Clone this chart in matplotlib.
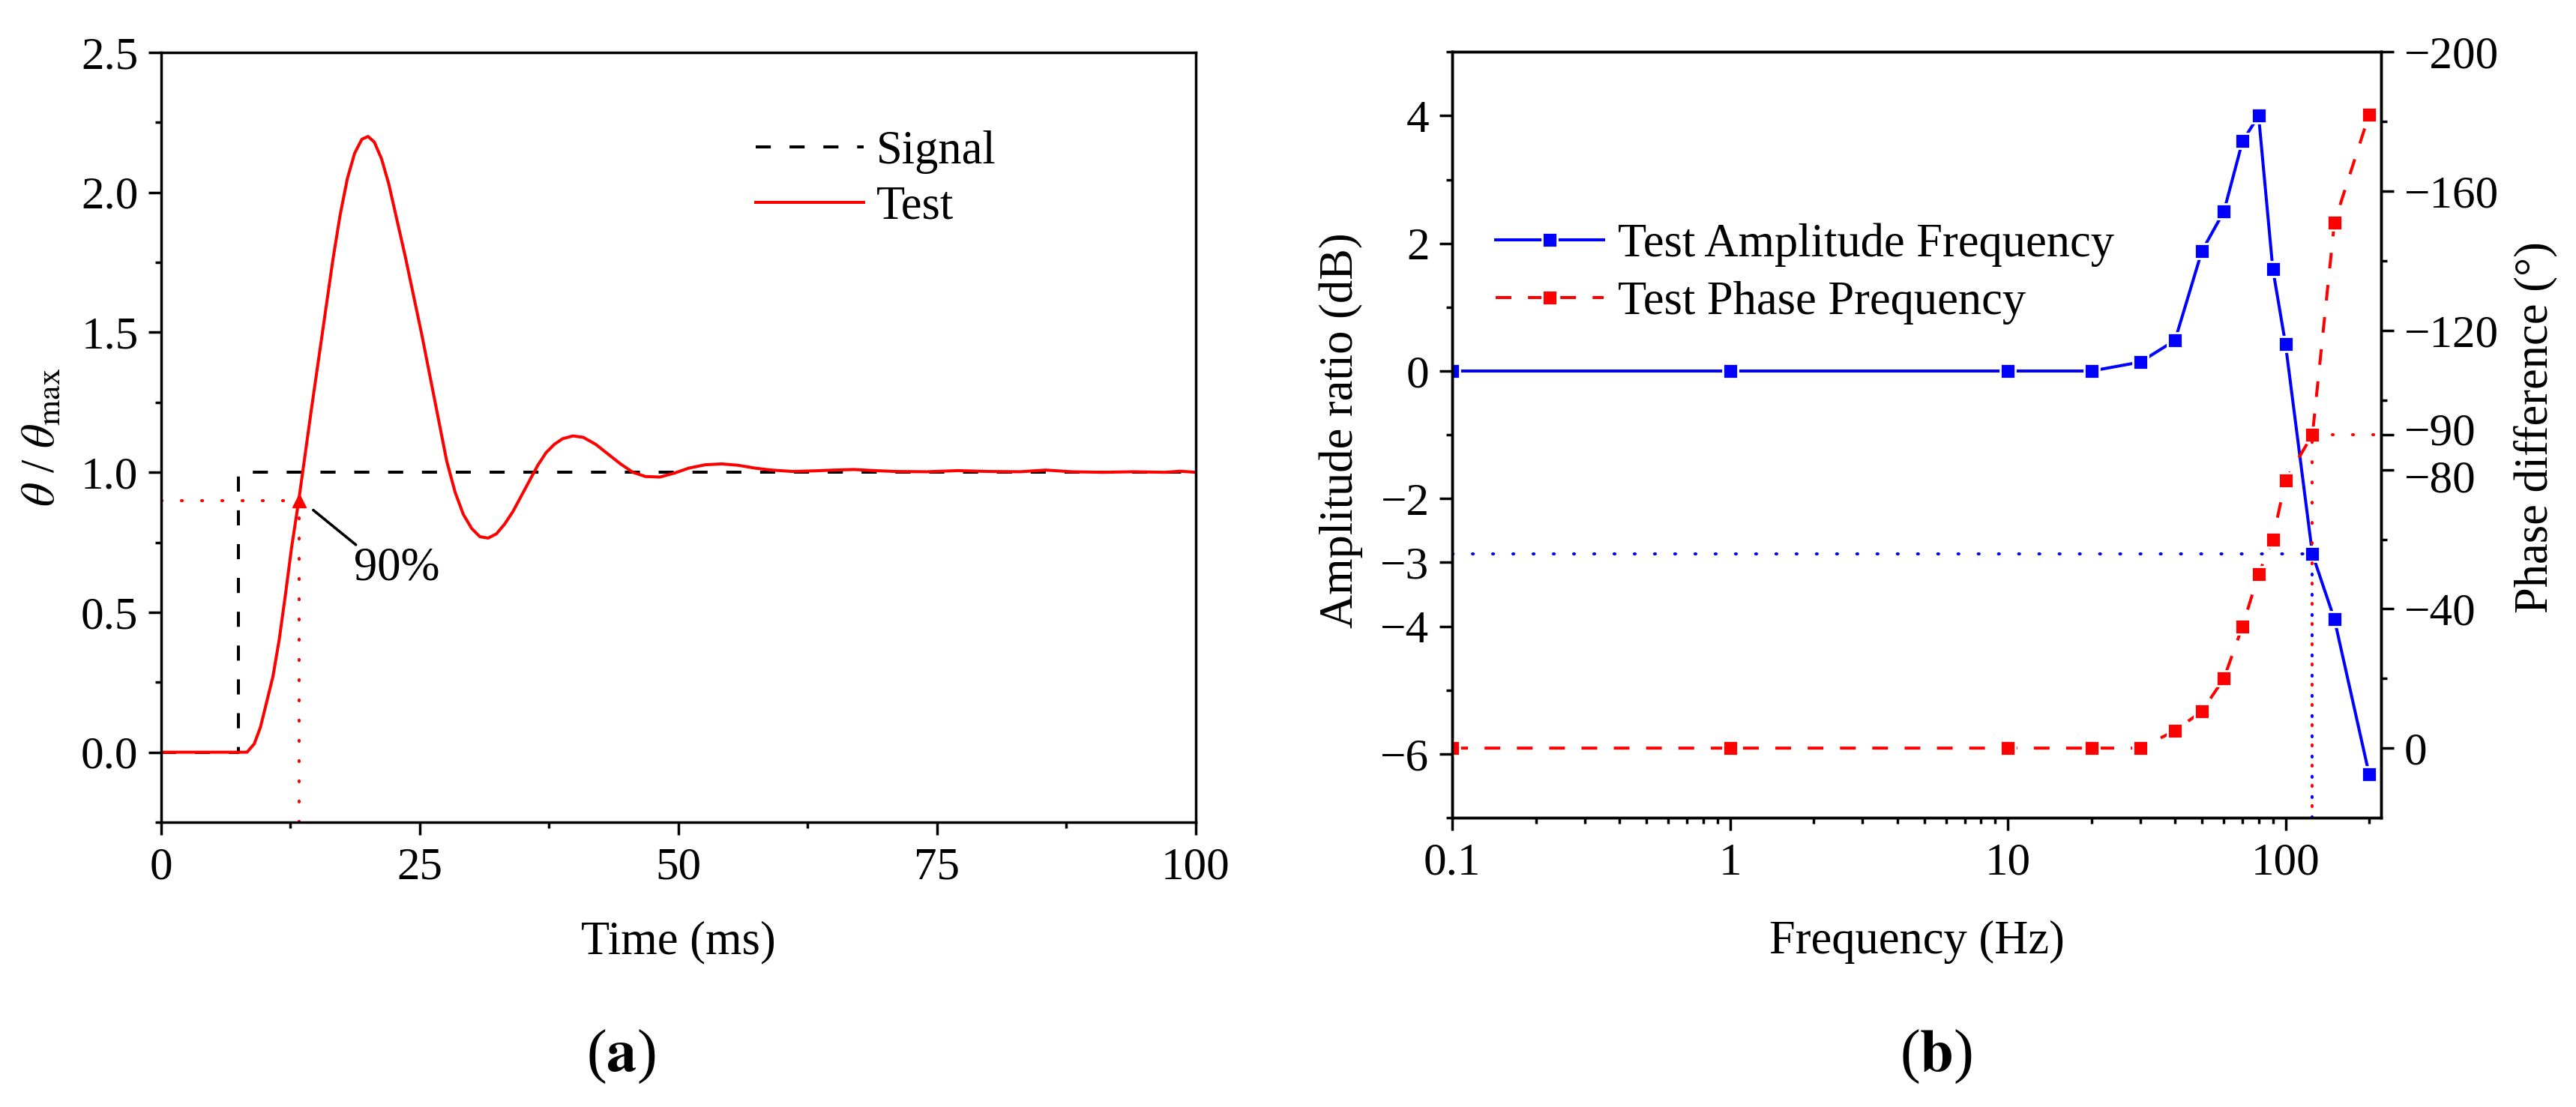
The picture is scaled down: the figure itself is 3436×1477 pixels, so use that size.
import matplotlib
matplotlib.use('Agg')
import matplotlib.pyplot as plt
from matplotlib.ticker import MultipleLocator, FixedLocator
from matplotlib.transforms import ScaledTranslation

plt.rcParams['font.family'] = ['Liberation Serif', 'DejaVu Serif']
plt.rcParams['mathtext.fontset'] = 'stix'

# ---------------- panel (a) data ----------------
test_t = [0, 8.3, 9.0, 9.6, 10.2, 10.8, 11.4, 12.0, 12.6, 13.3, 13.9, 14.5, 15.2, 15.9,
          16.6, 17.3, 18.0, 18.7, 19.4, 20.0, 20.6, 21.3, 22.0, 22.8, 23.6, 24.4, 25.2,
          26.0, 26.8, 27.6, 28.4, 29.2, 30.0, 30.8, 31.6, 32.4, 33.2, 34.0, 34.8, 35.6,
          36.4, 37.2, 38.0, 38.8, 39.8, 40.8, 42.0, 43.2, 44.4, 45.6, 46.8, 48.2, 49.6,
          51.0, 52.6, 54.2, 55.8, 57.4, 59.0, 61.0, 63.0, 65.0, 67.0, 69.0, 71.0, 74.0,
          77.0, 80.0, 83.0, 85.5, 88.0, 91.0, 94.0, 97.0, 98.5, 100.0]
test_v = [0, 0, 0.03, 0.09, 0.18, 0.27, 0.40, 0.56, 0.73, 0.90, 1.06, 1.22, 1.40, 1.58,
          1.76, 1.92, 2.05, 2.14, 2.19, 2.20, 2.18, 2.12, 2.03, 1.90, 1.77, 1.63, 1.49,
          1.34, 1.19, 1.04, 0.93, 0.85, 0.80, 0.77, 0.765, 0.78, 0.815, 0.86, 0.915, 0.97,
          1.025, 1.07, 1.10, 1.12, 1.13, 1.125, 1.10, 1.065, 1.03, 1.00, 0.985, 0.983, 0.997,
          1.015, 1.027, 1.03, 1.025, 1.015, 1.008, 1.003, 1.005, 1.008, 1.010, 1.006, 1.003, 1.002,
          1.006, 1.003, 1.002, 1.008, 1.002, 1.000, 1.002, 1.000, 1.004, 1.000]
signal_t = [0, 7.5, 100]
signal_v = [0, 1, 1]
rise_t = 13.3
rise_v = 0.9

a_xticks = [0, 25, 50, 75, 100]
a_xticklabels = ['0', '25', '50', '75', '100']
a_yticks = [0.0, 0.5, 1.0, 1.5, 2.0, 2.5]
a_yticklabels = ['0.0', '0.5', '1.0', '1.5', '2.0', '2.5']

# ---------------- panel (b) data ----------------
freq = [0.1, 1, 10, 20, 30, 40, 50, 60, 70, 80, 90, 100, 125, 150, 200]
amp = [0, 0, 0, 0, 0.14, 0.48, 1.88, 2.5, 3.6, 4.0, 1.6, 0.42, -2.87, -3.89, -6.32]
phase = [0, 0, 0, 0, 0, -5, -10.6, -20, -35, -50, -60, -77, -90, -151, -182]
cut_index = 12

b_xticks = [0.1, 1, 10, 100]
b_xticklabels = ['0.1', '1', '10', '100']
amp_ticks = [4, 2, 0, -2, -3, -4, -6]
amp_minor = [5, 3, 1, -1, -5, -7]
phase_ticks = [-200, -160, -120, -90, -80, -40, 0]
phase_minor = [-180, -140, -100, -60, -20]

# ---------------- figure ----------------
fig = plt.figure(figsize=(34.37, 14.77), dpi=100)
axA = fig.add_axes([0.06255, 0.2573, 0.4015, 0.6953])
axB = fig.add_axes([0.5636, 0.2613, 0.3605, 0.6918])
axP = axB.twinx()

LW = 2.9
SPW = 2.5
TICK_FS = 44
LAB_FS = 45
dotted = (0, (0.3, 6.4))

for ax in (axA, axB, axP):
    for s in ax.spines.values():
        s.set_linewidth(SPW)

# ---- panel a ----
axA.plot(signal_t, signal_v, color='black', lw=LW, ls=(0, (5.0, 6.2)),
         drawstyle='steps-post', label='Signal')
axA.plot(test_t, test_v, color='red', lw=LW, label='Test')
axA.set_xlim(0, 100)
axA.set_ylim(-0.25, 2.5)
axA.hlines(rise_v, axA.get_xlim()[0], rise_t, colors='red', lw=LW,
           linestyles=[dotted], capstyle='round')
axA.vlines(rise_t, axA.get_ylim()[0], rise_v, colors='red', lw=LW,
           linestyles=[dotted], capstyle='round')
axA.plot([rise_t], [rise_v], marker='^', color='red', markersize=13, ls='none')
axA.annotate('90%', xy=(rise_t + 1.4, rise_v - 0.035), xytext=(22.8, 0.656),
             fontsize=LAB_FS, ha='center', va='center',
             arrowprops=dict(arrowstyle='-', color='black', lw=2.6,
                             relpos=(0.05, 1.0), shrinkA=0, shrinkB=0))

axA.set_xticks(a_xticks, labels=a_xticklabels)
axA.set_yticks(a_yticks, labels=a_yticklabels)
axA.xaxis.set_minor_locator(MultipleLocator(12.5))
axA.yaxis.set_minor_locator(MultipleLocator(0.25))
axA.tick_params(which='both', direction='out', top=False, right=False, width=SPW)
axA.tick_params(which='major', length=12, labelsize=TICK_FS)
axA.tick_params(axis='x', which='major', pad=12)
axA.tick_params(axis='y', which='major', pad=10)
axA.tick_params(which='minor', length=6)

axA.set_xlabel('Time (ms)', fontsize=LAB_FS, va='center')
axA.xaxis.set_label_coords(0.5, -0.156)
axA.set_ylabel(r'$\theta$ / $\theta_{\mathrm{max}}$', fontsize=LAB_FS, va='center')
axA.yaxis.set_label_coords(-0.115, 0.50)

axA.legend(loc='center left', bbox_to_anchor=(0.575, 0.8345), frameon=False,
           fontsize=LAB_FS, handlelength=2.3, handletextpad=0.27,
           labelspacing=0.25, borderpad=0, borderaxespad=0)

# ---- panel b ----
axB.set_xscale('log')
l_amp, = axB.plot(freq, amp, color='blue', lw=LW, marker='s', markersize=14.5,
                  markeredgecolor='white', markeredgewidth=2.0,
                  label='Test Amplitude Frequency')
l_ph, = axP.plot(freq, phase, color='red', lw=LW, ls=(0, (5.2, 5.5)), marker='s',
                 markersize=14.5, markeredgecolor='white', markeredgewidth=2.0,
                 label='Test Phase Prequency')
axB.set_xlim(0.1, 221)
axB.set_ylim(-7, 5)
axP.set_ylim(20, -200)

fc = freq[cut_index]
axB.hlines(amp[cut_index], axB.get_xlim()[0], fc, colors='blue', lw=LW,
           linestyles=[dotted], capstyle='round')
axB.vlines(fc, axB.get_ylim()[0], amp[cut_index], colors='blue', lw=LW,
           linestyles=[dotted], capstyle='round')
axP.vlines(fc, axP.get_ylim()[0], phase[cut_index], colors='red', lw=LW,
           linestyles=[(3, (0.3, 6.4))], capstyle='round')
axP.hlines(phase[cut_index], fc, axB.get_xlim()[1], colors='red', lw=LW,
           linestyles=[dotted], capstyle='round')

axB.set_xticks(b_xticks, labels=b_xticklabels)
axB.set_yticks(amp_ticks, labels=[str(v).replace('-', '\u2212') for v in amp_ticks])
axB.yaxis.set_minor_locator(FixedLocator(amp_minor))
axP.set_yticks(phase_ticks, labels=[str(v).replace('-', '\u2212') for v in phase_ticks])
axP.yaxis.set_minor_locator(FixedLocator(phase_minor))

axB.tick_params(which='both', direction='out', top=False, right=False, width=SPW)
axB.tick_params(which='major', length=12, labelsize=TICK_FS)
axB.tick_params(axis='x', which='major', pad=12)
axB.tick_params(axis='y', which='major', pad=10)
axB.tick_params(which='minor', length=6)
axP.tick_params(which='both', direction='out', width=SPW)
axP.tick_params(which='major', length=12, labelsize=TICK_FS, pad=10)
axP.tick_params(which='minor', length=6)

axB.set_xlabel('Frequency (Hz)', fontsize=LAB_FS, va='center')
axB.xaxis.set_label_coords(0.5, -0.1625)
axB.set_ylabel('Amplitude ratio (dB)', fontsize=LAB_FS, va='center')
axB.yaxis.set_label_coords(-0.120, 0.506)
axP.set_ylabel('Phase difference (\u00b0)', fontsize=LAB_FS, rotation=90, va='center')
axP.yaxis.set_label_coords(1.166, 0.51)

axP.legend(handles=[l_amp, l_ph], loc='center left', bbox_to_anchor=(0.0468, 0.7106),
           frameon=False, fontsize=LAB_FS, handlelength=2.3, handletextpad=0.3,
           labelspacing=0.3, borderpad=0, borderaxespad=0, numpoints=1)

fig.text(0.2409, 0.0454, '(' + r'$\mathbf{a}$' + ')', fontsize=58, ha='center', va='center')
fig.text(0.7515, 0.0454, '(' + r'$\mathbf{b}$' + ')', fontsize=58, ha='center', va='center')

# nudge the two crowded phase labels (-90 / -80) slightly apart
fig.canvas.draw()
for tick in axP.yaxis.get_major_ticks():
    loc = tick.get_loc()
    if loc == -90:
        shift = ScaledTranslation(0, 6 / 72, fig.dpi_scale_trans)
    elif loc == -80:
        shift = ScaledTranslation(0, -6 / 72, fig.dpi_scale_trans)
    else:
        continue
    tick.label2.set_transform(tick.label2.get_transform() + shift)

fig.savefig('out.png', dpi=100)
